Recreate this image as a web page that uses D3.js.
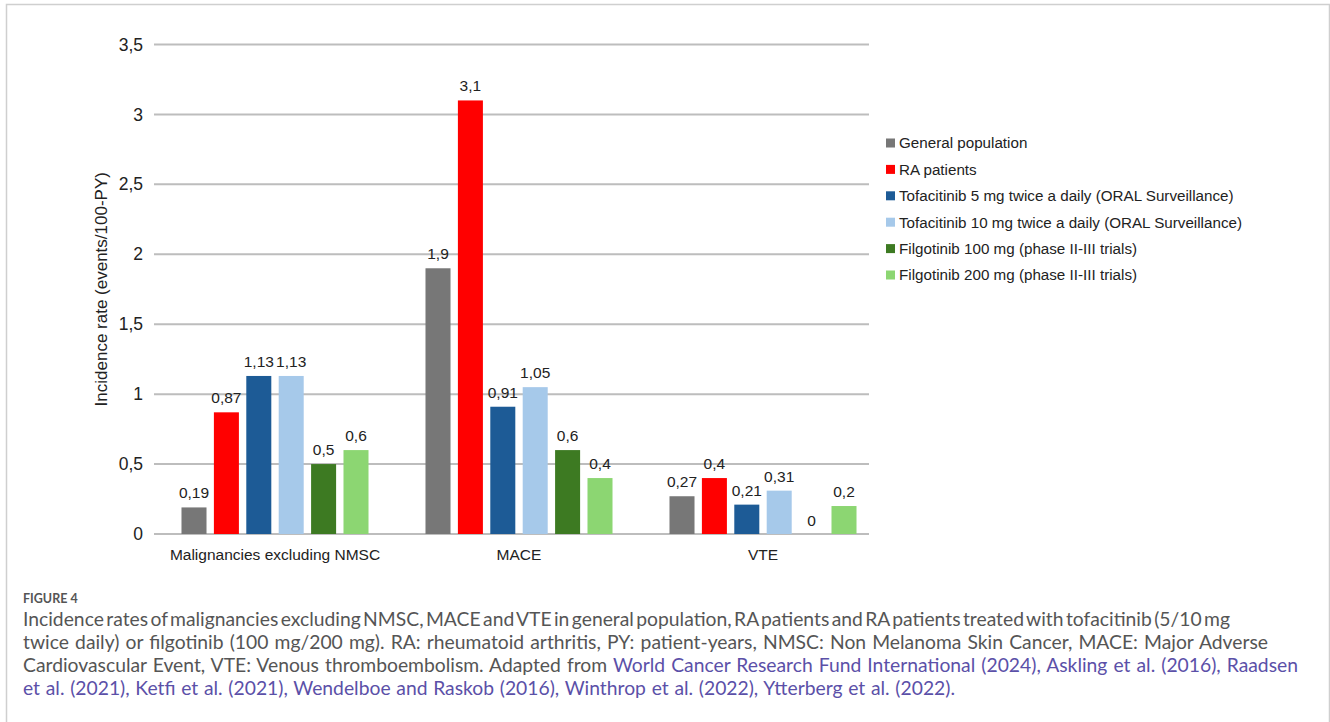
<!DOCTYPE html>
<html>
<head>
<meta charset="utf-8">
<script src="https://cdn.jsdelivr.net/npm/d3@7"></script>
<style>
  html, body { margin: 0; padding: 0; background: #ffffff; }
  svg { display: block; }
</style>
</head>
<body>
<svg id="chart" width="1330" height="722"></svg>
<script>
// Event categories on the x axis
const categories = ["Malignancies excluding NMSC", "MACE", "VTE"];

// Series (one bar per category each)
const seriesNames = [
  "General population",
  "RA patients",
  "Tofacitinib 5 mg twice a daily (ORAL Surveillance)",
  "Tofacitinib 10 mg twice a daily (ORAL Surveillance)",
  "Filgotinib 100 mg (phase II-III trials)",
  "Filgotinib 200 mg (phase II-III trials)"
];
const seriesColors = ["#777777", "#ff0000", "#1d5b96", "#a6c9ea", "#3d7a22", "#8cd672"];

// Incidence rates (events/100-PY), one array per series, in category order
const generalPopulation = [0.19, 1.9, 0.27];
const raPatients        = [0.87, 3.1, 0.4];
const tofacitinib5      = [1.13, 0.91, 0.21];
const tofacitinib10     = [1.13, 1.05, 0.31];
const filgotinib100     = [0.5, 0.6, 0];
const filgotinib200     = [0.6, 0.4, 0.2];
const seriesValues = [generalPopulation, raPatients, tofacitinib5, tofacitinib10, filgotinib100, filgotinib200];

// Y axis ticks
const yTicks = [0, 0.5, 1, 1.5, 2, 2.5, 3, 3.5];

const svg = d3.select("#chart");
const fmt = v => String(v).replace(".", ",");
const chartFont = "'Liberation Sans', Arial, sans-serif";

// Outer frame
svg.append("path")
  .attr("d", "M6.5,740 V4.5 H1329.5 V740")
  .attr("fill", "none")
  .attr("stroke", "#cfcfcf")
  .attr("stroke-width", 1.5);

// Scales
const y = d3.scaleLinear().domain([0, 3.5]).range([534, 44.5]);
const x0 = d3.scaleBand().domain(categories).range([153, 885]).padding(0);
const groupHalf = 97.2;
const x1 = d3.scaleBand().domain(seriesNames).range([-groupHalf, groupHalf])
  .paddingInner(0.228).paddingOuter(0.114);

const gridLeft = 154, gridRight = 869;

// Horizontal gridlines
svg.append("g").selectAll("line").data(yTicks).join("line")
  .attr("x1", gridLeft).attr("x2", gridRight)
  .attr("y1", d => y(d)).attr("y2", d => y(d))
  .attr("stroke", "#bdbdbd").attr("stroke-width", 2);

// Y axis tick labels
const yAxis = d3.axisLeft(y).tickValues(yTicks).tickFormat(fmt).tickSize(0).tickPadding(0);
const yg = svg.append("g").attr("transform", "translate(143,0)").call(yAxis);
yg.select(".domain").remove();
yg.selectAll("text")
  .attr("font-family", chartFont)
  .attr("font-size", 17.5)
  .attr("fill", "#222");

// Y axis title
svg.append("text")
  .attr("transform", `translate(107,${(y(0) + y(3.5)) / 2}) rotate(-90)`)
  .attr("text-anchor", "middle")
  .attr("font-family", chartFont)
  .attr("font-size", 17)
  .attr("fill", "#222")
  .text("Incidence rate (events/100-PY)");

// Bars + value labels
const flat = [];
categories.forEach((c, ci) => {
  seriesNames.forEach((s, si) => {
    flat.push({ cat: c, series: s, color: seriesColors[si], value: seriesValues[si][ci] });
  });
});

const barX = d => x0(d.cat) + x0.bandwidth() / 2 + x1(d.series);

svg.append("g").selectAll("rect").data(flat.filter(d => d.value > 0)).join("rect")
  .attr("x", barX)
  .attr("y", d => y(d.value))
  .attr("width", x1.bandwidth())
  .attr("height", d => y(0) - y(d.value))
  .attr("fill", d => d.color);

svg.append("g").selectAll("text").data(flat).join("text")
  .attr("x", d => barX(d) + x1.bandwidth() / 2)
  .attr("y", d => y(d.value) - (d.value > 0 ? 9 : 8))
  .attr("text-anchor", "middle")
  .attr("font-family", chartFont)
  .attr("font-size", 15.5)
  .attr("fill", "#222")
  .text(d => fmt(d.value));

// Category labels
const xAxis = d3.axisBottom(x0).tickSize(0).tickPadding(0);
const xg = svg.append("g").attr("transform", "translate(0,549)").call(xAxis);
xg.select(".domain").remove();
xg.selectAll("text")
  .attr("font-family", chartFont)
  .attr("font-size", 15.5)
  .attr("fill", "#222")
  .attr("dy", "0.71em");

// Legend
const legend = svg.append("g").attr("transform", "translate(886,143)");
const li = legend.selectAll("g").data(seriesNames).join("g")
  .attr("transform", (d, i) => `translate(0,${i * 26.4})`);
li.append("rect")
  .attr("x", 0).attr("y", -4.5).attr("width", 9).attr("height", 9)
  .attr("fill", (d, i) => seriesColors[i]);
li.append("text")
  .attr("x", 13).attr("y", 0).attr("dy", "0.35em")
  .attr("font-family", chartFont)
  .attr("font-size", 15.2)
  .attr("fill", "#222")
  .text(d => d);

// Caption
const capFont = "Lato, 'Open Sans', sans-serif";
svg.append("text")
  .attr("x", 23).attr("y", 603)
  .attr("font-family", capFont)
  .attr("font-size", 12.5)
  .attr("font-weight", 700)
  .attr("fill", "#555")
  .text("FIGURE 4");

const grey = "#555555", link = "#5b50a8";
const captionLines = [
  [["Incidence rates of malignancies excluding NMSC, MACE and VTE in general population, RA patients and RA patients treated with tofacitinib (5/10 mg", grey]],
  [["twice daily) or filgotinib (100 mg/200 mg). RA: rheumatoid arthritis, PY: patient-years, NMSC: Non Melanoma Skin Cancer, MACE: Major Adverse", grey]],
  [["Cardiovascular Event, VTE: Venous thromboembolism. Adapted from ", grey],
   ["World Cancer Research Fund International (2024), Askling et al. (2016), Raadsen", link]],
  [["et al. (2021), Ketfi et al. (2021), Wendelboe and Raskob (2016), Winthrop et al. (2022), Ytterberg et al. (2022).", link]]
];
// right edge of each caption line in the set column
const lineRight = [1230, 1268, 1298, 955];
const capLeft = 23, capBase = 626, capStep = 23, baseSize = 17;

const capTexts = captionLines.map((parts, i) => {
  const t = svg.append("text")
    .attr("x", capLeft).attr("y", capBase + i * capStep)
    .attr("font-family", capFont)
    .attr("font-size", baseSize)
    .attr("font-weight", 400);
  parts.forEach(([txt, col]) => t.append("tspan").attr("fill", col).text(txt));
  return t;
});

// Size the caption to the column, then set each line's word spacing
const total = d3.sum(capTexts, t => t.node().getComputedTextLength());
const target = d3.sum(lineRight, r => r - capLeft);
const capSize = baseSize * target / total;
capTexts.forEach((t, i) => {
  t.attr("font-size", capSize);
  const natural = t.node().getComputedTextLength();
  const spaces = (t.text().match(/ /g) || []).length;
  t.attr("word-spacing", ((lineRight[i] - capLeft) - natural) / spaces);
});
</script>
</body>
</html>
